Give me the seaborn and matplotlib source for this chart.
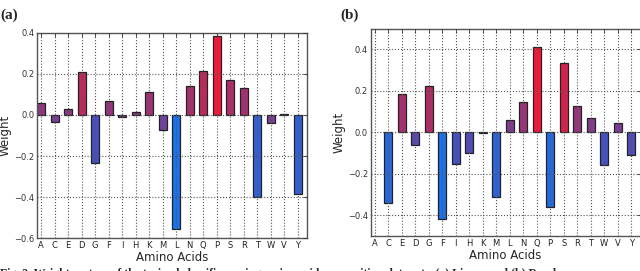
import numpy as np
import pandas as pd
import matplotlib.pyplot as plt
import seaborn as sns
from matplotlib.colors import LinearSegmentedColormap, Normalize

# amino acids in plotted order
acids = ['A', 'C', 'E', 'D', 'G', 'F', 'I', 'H', 'K', 'M',
         'L', 'N', 'Q', 'P', 'S', 'R', 'T', 'W', 'V', 'Y']

# weights
weights_a = [0.056, -0.035, 0.030, 0.211, -0.236, 0.066, -0.012, 0.012, 0.110, -0.072,
             -0.554, 0.141, 0.213, 0.385, 0.168, 0.131, -0.398, -0.037, 0.005, -0.387]
weights_b = [0.0, -0.341, 0.187, -0.061, 0.224, -0.419, -0.152, -0.100, -0.003, -0.312,
             0.061, 0.147, 0.410, -0.360, 0.337, 0.129, 0.071, -0.158, 0.047, -0.107]

caption = ('Fig. 2  Weight vectors of the trained classifiers using amino acid '
           'composition data sets. (a) Linear and (b) Random')

sns.set_style('white')
plt.rcParams['font.family'] = ['DejaVu Sans']

# blue -> purple -> red, scaled from min to max weight in each panel
cmap = LinearSegmentedColormap.from_list(
    'bluered',
    [(0.0, '#1a72ec'), (0.33, '#4650c4'), (0.5, '#6c44a2'),
     (0.62, '#8c3888'), (0.8, '#ba2a62'), (1.0, '#f8173a')])

fig = plt.figure(figsize=(6.4, 2.71), dpi=100)
ax_a = fig.add_axes([0.058, 0.1207, 0.422, 0.7587])
ax_b = fig.add_axes([0.579, 0.129, 0.422, 0.765])


def draw_panel(ax, vals, ylim, yticks):
    df = pd.DataFrame({'acid': acids, 'weight': vals})
    norm = Normalize(min(vals), max(vals))
    pal = {a: cmap(norm(v)) for a, v in zip(acids, vals)}
    sns.barplot(data=df, x='acid', y='weight', hue='acid', palette=pal,
                legend=False, width=0.6, edgecolor='#222222', linewidth=0.9,
                saturation=1, ax=ax)
    for p in ax.patches:
        if p.get_height() == 0:
            p.set_visible(False)
    ax.set_xlim(-0.3, 19.7)
    ax.set_ylim(*ylim)
    ax.set_yticks(yticks)
    ax.set_yticklabels([f'{t:.1f}'.replace('-', '\u2212') for t in yticks])
    ax.grid(True, linestyle=':', color='#555555', linewidth=0.8)
    ax.set_axisbelow(False)
    ax.tick_params(direction='in', labelsize=6, length=3, width=0.6,
                   top=True, right=True, pad=2, colors='#333333')
    ax.tick_params(axis='x', labelcolor='#222222')
    for s in ax.spines.values():
        s.set_color('#555555')
        s.set_linewidth(1.0)
    ax.set_xlabel('Amino Acids', fontsize=8.5, labelpad=1)
    ax.set_ylabel('Weight', fontsize=8.5)
    ax.yaxis.set_label_coords(-0.093, 0.5)


draw_panel(ax_a, weights_a, (-0.6, 0.4), [-0.6, -0.4, -0.2, 0.0, 0.2, 0.4])
draw_panel(ax_b, weights_b, (-0.5, 0.5), [-0.4, -0.2, 0.0, 0.2, 0.4])

fig.text(0.0, 0.97, '(a)', fontsize=11, fontweight='bold',
         family=['Liberation Serif'], va='top')
fig.text(0.532, 0.97, '(b)', fontsize=11, fontweight='bold',
         family=['Liberation Serif'], va='top')
fig.text(0.0, -0.012, caption, fontsize=8.5, fontweight='bold',
         family=['Liberation Serif'], va='center')

fig.savefig('out.png', dpi=100)
